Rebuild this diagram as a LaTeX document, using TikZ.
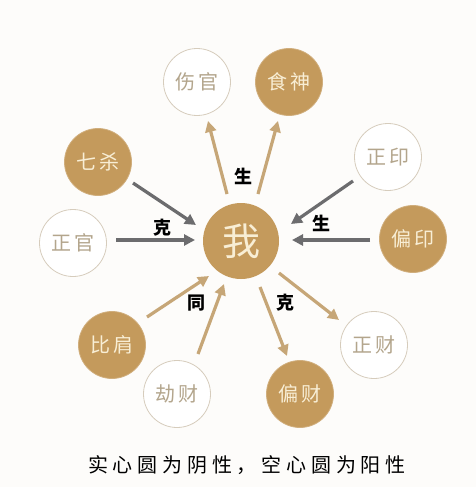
\documentclass[tikz,border=0pt]{standalone}
\usepackage{fontspec}
\newfontfamily\cjk{Noto Sans CJK SC}
\newfontfamily\cjkl[LetterSpace=12]{Noto Sans CJK SC}
\newfontfamily\cjkcap[LetterSpace=24]{Noto Sans CJK SC}
\usetikzlibrary{arrows.meta}
\definecolor{bg}{HTML}{FDFCFA}
\definecolor{gold}{HTML}{C49A5C}
\definecolor{cream}{HTML}{F8EED5}
\definecolor{ring}{HTML}{D6CCBC}
\definecolor{hollowtxt}{HTML}{B3A58C}
\definecolor{tan}{HTML}{C6A677}
\definecolor{darkgray}{HTML}{6C6C6E}
\tikzset{
  yin/.style={circle, fill=gold, draw=gold!80!white, line width=0.8pt, minimum size=67pt, inner sep=0pt,
    text=cream, font=\cjkl\fontsize{20}{20}\selectfont},
  yang/.style={circle, fill=white, draw=ring, line width=0.8pt, minimum size=67pt, inner sep=0pt,
    text=hollowtxt, font=\cjkl\fontsize{20}{20}\selectfont},
  me/.style={circle, fill=gold, minimum size=76pt, inner sep=0pt, text=cream, font=\cjk\fontsize{38}{38}\selectfont},
  goldarrow/.style={draw=tan, line width=3.2pt, -{Triangle[length=11pt,width=11pt]}},
  grayarrow/.style={draw=darkgray, line width=3.2pt, -{Triangle[length=11pt,width=11pt]}},
  lbl/.style={font=\cjk\bfseries\fontsize{18}{18}\selectfont, text=black},
}
\begin{document}
\begin{tikzpicture}[x=1pt,y=-1pt]
\fill[bg] (0,0) rectangle (476,487);
\useasboundingbox (0,0) rectangle (476,487);

\node[me] (wo) at (241,241) {我};
\node[yang] (shangguan) at (197,82) {伤官};
\node[yin] (shishen) at (289,82) {食神};
\node[yin] (qisha) at (98,162) {七杀};
\node[yang] (zhengguan) at (73,243) {正官};
\node[yang] (zhengyin) at (388,157) {正印};
\node[yin] (pianyin) at (413,239) {偏印};
\node[yin] (bijian) at (112,345) {比肩};
\node[yang] (jiecai) at (177,394) {劫财};
\node[yin] (piancai) at (300,394) {偏财};
\node[yang] (zhengcai) at (374,345) {正财};

% output arrows (生)
\coordinate (s1) at (227,194); \coordinate (e1) at (208,121);
\coordinate (s2) at (258,194); \coordinate (e2) at (278,121);
\draw[goldarrow] (s1) -- (e1);
\draw[goldarrow] (s2) -- (e2);
\node[lbl] (lsheng1) at (243,176) {生};

% 克 from left
\coordinate (s3) at (133,183); \coordinate (e3) at (196,225);
\coordinate (s4) at (116,240); \coordinate (e4) at (195,240);
\draw[grayarrow] (s3) -- (e3);
\draw[grayarrow] (s4) -- (e4);
\node[lbl] (lke1) at (162,228) {克};

% 生 from right
\coordinate (s5) at (353,181); \coordinate (e5) at (291,224);
\coordinate (s6) at (370,240); \coordinate (e6) at (292,240);
\draw[grayarrow] (s5) -- (e5);
\draw[grayarrow] (s6) -- (e6);
\node[lbl] (lsheng2) at (321,223) {生};

% 同
\coordinate (s7) at (147,317); \coordinate (e7) at (209,276);
\coordinate (s8) at (198,354); \coordinate (e8) at (224,284);
\draw[goldarrow] (s7) -- (e7);
\draw[goldarrow] (s8) -- (e8);
\node[lbl] (ltong) at (196,303) {同};

% 克 to wealth
\coordinate (s9) at (260,287); \coordinate (e9) at (287,356);
\coordinate (s10) at (279,273); \coordinate (e10) at (339,320);
\draw[goldarrow] (s9) -- (e9);
\draw[goldarrow] (s10) -- (e10);
\node[lbl] (lke2) at (285,303) {克};

\node[font=\cjkcap\fontsize{20}{20}\selectfont, text=black] (caption) at (247,465) {实心圆为阴性，空心圆为阳性};
\end{tikzpicture}
\end{document}
